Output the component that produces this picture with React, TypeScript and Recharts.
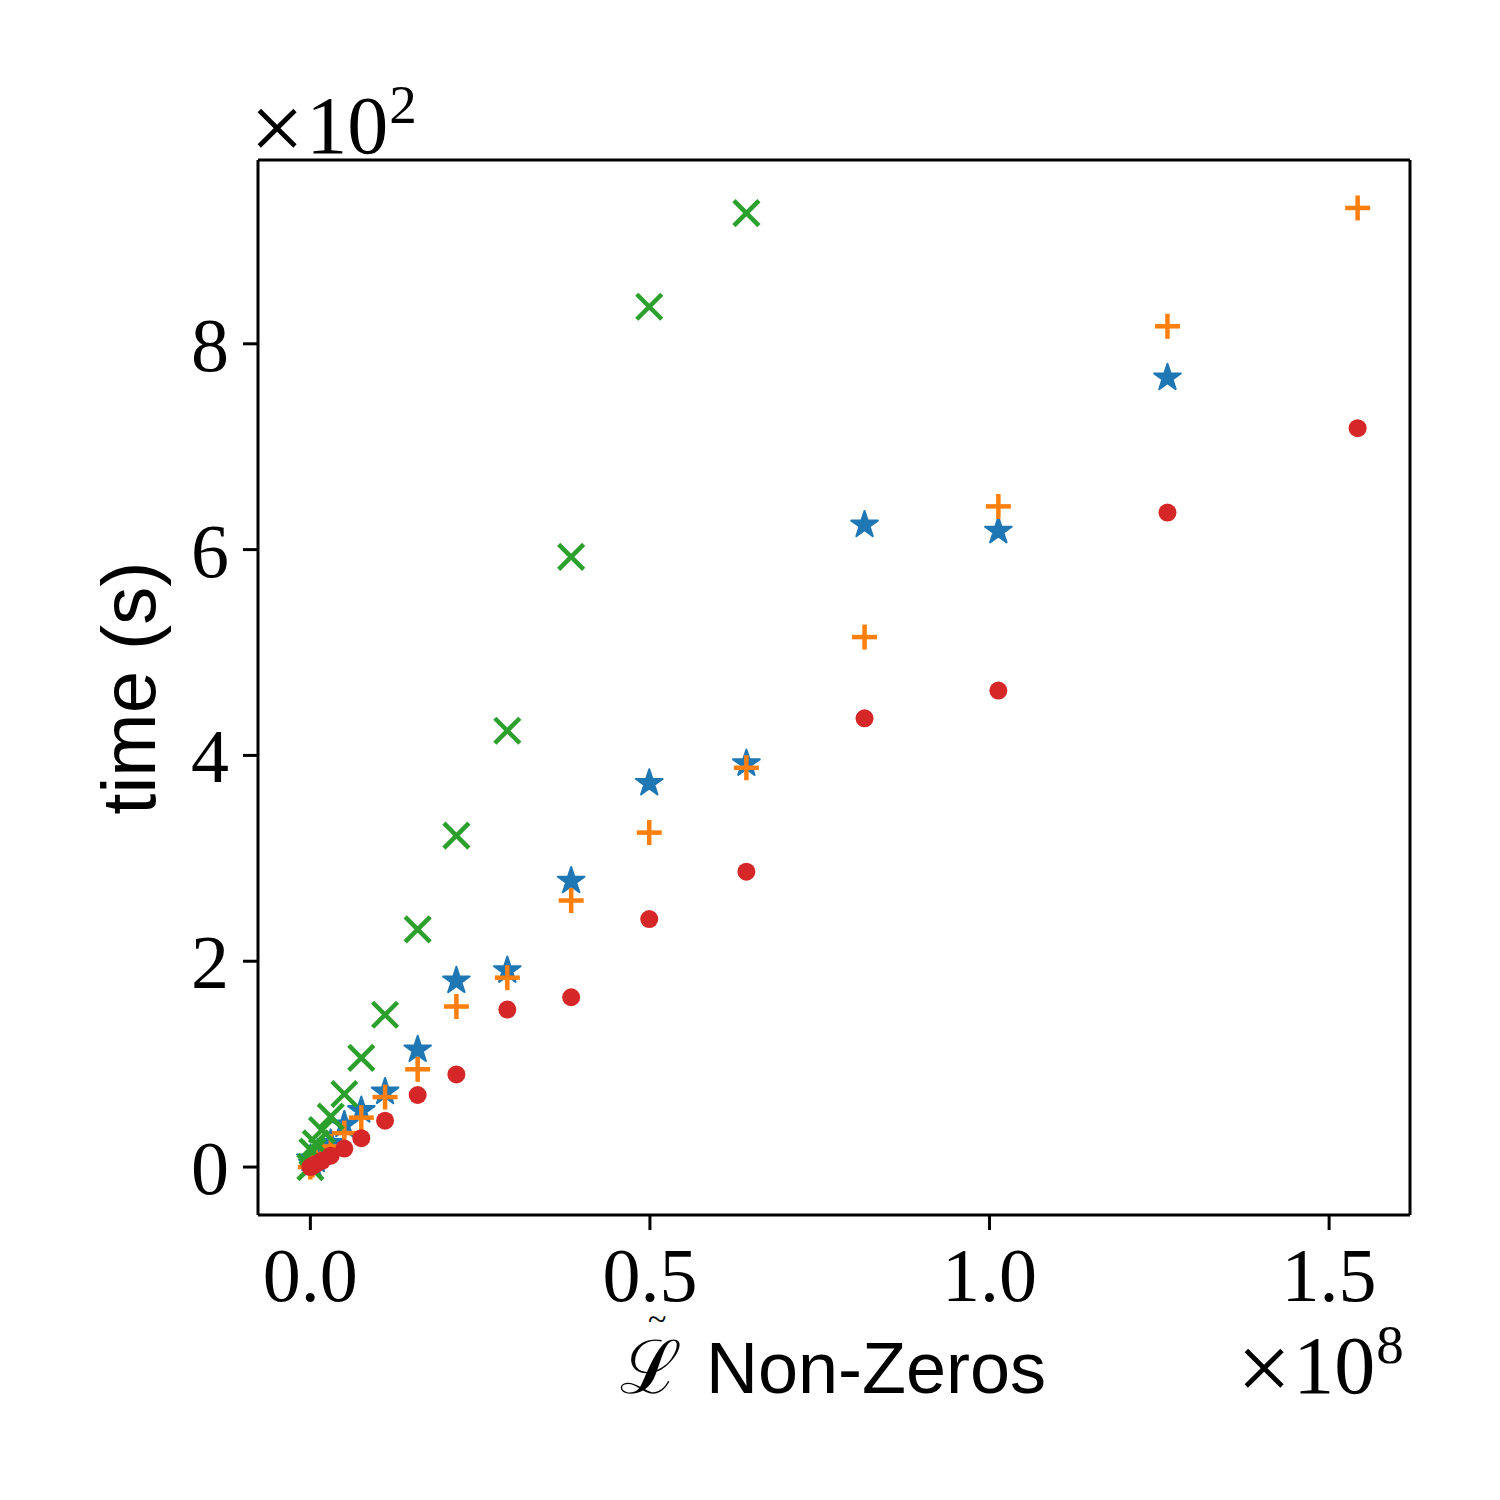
import React from 'react';
import { ScatterChart, Scatter, XAxis, YAxis, ReferenceLine } from 'recharts';

// x: number of non-zeros (units of 1e8)
const xNonZeros = [0.0, 0.003, 0.008, 0.017, 0.03, 0.05, 0.075, 0.11, 0.158, 0.215, 0.29, 0.384, 0.499, 0.642, 0.816, 1.013, 1.262, 1.542];
// times (units of 1e2 s)
const blueTimes = [0.08, 0.03, 0.07, 0.14, 0.23, 0.41, 0.55, 0.73, 1.14, 1.81, 1.91, 2.78, 3.73, 3.92, 6.24, 6.18, 7.67];
const orangeTimes = [0.0, 0.02, 0.06, 0.12, 0.2, 0.33, 0.48, 0.68, 0.95, 1.56, 1.84, 2.59, 3.25, 3.88, 5.15, 6.42, 8.17, 9.32];
const greenTimes = [0.0, 0.15, 0.23, 0.36, 0.49, 0.71, 1.06, 1.48, 2.31, 3.22, 4.24, 5.93, 8.36, 9.27];
const redTimes = [0.0, 0.01, 0.03, 0.06, 0.11, 0.18, 0.28, 0.45, 0.70, 0.90, 1.53, 1.65, 2.41, 2.87, 4.36, 4.63, 6.36, 7.18];

const xTicks = [0, 0.5, 1.0, 1.5];
const yTicks = [0, 2, 4, 6, 8];

const xDomain: [number, number] = [-0.0771, 1.6191];
const yDomain: [number, number] = [-0.466, 9.786];

const BLUE = '#1f77b4';
const ORANGE = '#ff7f0e';
const GREEN = '#2ca02c';
const RED = '#d62728';

const toPoints = (ys: number[]) => ys.map((y, i) => ({ x: xNonZeros[i], y }));

const serif = '"Liberation Serif", "DejaVu Serif", serif';
const sans = '"Liberation Sans", "DejaVu Sans", sans-serif';

const StarShape = (props: any) => {
  const { cx, cy } = props;
  if (cx == null || cy == null) return null;
  const R = 14;
  const r = R * 0.382;
  const pts: string[] = [];
  for (let i = 0; i < 10; i++) {
    const rad = i % 2 === 0 ? R : r;
    const a = -Math.PI / 2 + (i * Math.PI) / 5;
    pts.push(`${cx + rad * Math.cos(a)},${cy + rad * Math.sin(a)}`);
  }
  return <polygon points={pts.join(' ')} fill={BLUE} stroke={BLUE} strokeWidth={2} strokeLinejoin="round" />;
};

const PlusShape = (props: any) => {
  const { cx, cy } = props;
  if (cx == null || cy == null) return null;
  const h = 12.5;
  return (
    <g stroke={ORANGE} strokeWidth={4.5}>
      <line x1={cx - h} y1={cy} x2={cx + h} y2={cy} />
      <line x1={cx} y1={cy - h} x2={cx} y2={cy + h} />
    </g>
  );
};

const XShape = (props: any) => {
  const { cx, cy } = props;
  if (cx == null || cy == null) return null;
  const h = 12.5;
  return (
    <g stroke={GREEN} strokeWidth={4.5}>
      <line x1={cx - h} y1={cy - h} x2={cx + h} y2={cy + h} />
      <line x1={cx - h} y1={cy + h} x2={cx + h} y2={cy - h} />
    </g>
  );
};

const DotShape = (props: any) => {
  const { cx, cy } = props;
  if (cx == null || cy == null) return null;
  return <circle cx={cx} cy={cy} r={9} fill={RED} />;
};

const axisLine = { stroke: '#000', strokeWidth: 3 };
const tickLine = { stroke: '#000', strokeWidth: 3 };

const OffsetText = ({ x, y, exp }: { x: number; y: number; exp: string }) => (
  <text x={x} y={y} fontFamily={serif} fill="#000">
    <tspan fontSize={96} dy={7}>×</tspan>
    <tspan fontSize={82} dy={-7} dx={2}>10</tspan>
    <tspan fontSize={55} dy={-30} dx={1}>{exp}</tspan>
  </text>
);

export default function App() {
  return (
    <div style={{ position: 'absolute', left: 0, top: 0, width: 1500, height: 1500, background: '#fff' }}>
      <ScatterChart width={1500} height={1500} margin={{ top: 160, right: 90, bottom: 185, left: 108 }}>
        <XAxis
          dataKey="x"
          type="number"
          domain={xDomain}
          ticks={xTicks}
          allowDataOverflow
          height={100}
          tickSize={15}
          tickMargin={17}
          axisLine={axisLine}
          tickLine={tickLine}
          tickFormatter={(v: number) => v.toFixed(1)}
          tick={{ fontSize: 76, fontFamily: serif, fill: '#000' }}
          interval={0}
        />
        <YAxis
          dataKey="y"
          type="number"
          domain={yDomain}
          ticks={yTicks}
          allowDataOverflow
          width={150}
          tickSize={15}
          tickMargin={14}
          axisLine={axisLine}
          tickLine={tickLine}
          tickFormatter={(v: number) => String(v)}
          tick={{ fontSize: 76, fontFamily: serif, fill: '#000' }}
          interval={0}
        />
        <ReferenceLine y={yDomain[1]} stroke="#000" strokeWidth={3} ifOverflow="visible" />
        <ReferenceLine x={xDomain[1]} stroke="#000" strokeWidth={3} ifOverflow="visible" />
        <Scatter data={toPoints(blueTimes)} shape={StarShape} isAnimationActive={false} />
        <Scatter data={toPoints(orangeTimes)} shape={PlusShape} isAnimationActive={false} />
        <Scatter data={toPoints(greenTimes)} shape={XShape} isAnimationActive={false} />
        <Scatter data={toPoints(redTimes)} shape={DotShape} isAnimationActive={false} />
      </ScatterChart>
      <svg
        width={1500}
        height={1500}
        style={{ position: 'absolute', left: 0, top: 0, pointerEvents: 'none' }}
      >
        <OffsetText x={250} y={153} exp="2" />
        <OffsetText x={1237} y={1393} exp="8" />
        <text fill="#000">
          <tspan x={620} y={1393} fontFamily={serif} fontSize={74}>ℒ</tspan>
          <tspan x={648} y={1330} fontFamily={serif} fontSize={34}>~</tspan>
          <tspan x={706} y={1393} fontFamily={sans} fontSize={72}>Non-Zeros</tspan>
        </text>
        <text
          x={155}
          y={688}
          textAnchor="middle"
          fontFamily={sans}
          fontSize={76}
          fill="#000"
          transform="rotate(-90 155 688)"
        >
          time (s)
        </text>
      </svg>
    </div>
  );
}
